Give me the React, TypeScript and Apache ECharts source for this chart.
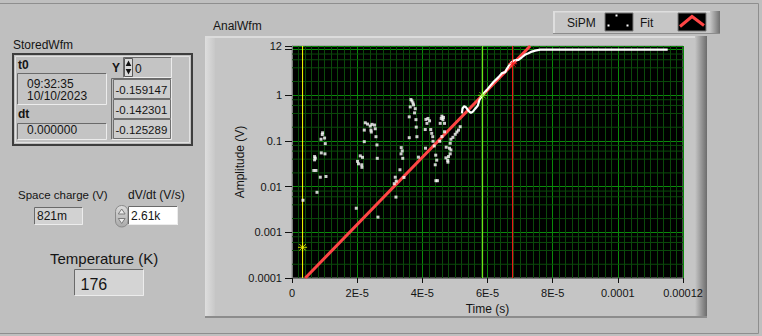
import React, { useEffect, useRef } from "react";
import * as echarts from "echarts";

// ---------- data (time in microseconds, amplitude in volts) ----------
const sipmSparseT = [
  9.39, 9.29, 8.9, 10.0, 10.21, 8.99, 10.12, 6.93, 7.15, 6.93, 6.69, 7.36, 8.68, 10.43, 7.67, 3.37,
  22.48, 23.19, 24.02, 24.54, 25.34, 22.18, 24.23, 24.33, 25.55, 25.77, 26.07, 22.18, 26.17, 20.95, 21.63, 20.12, 20.4, 21.41, 21.47, 19.72, 26.38,
  36.5, 36.81, 37.12, 37.3, 36.29, 37.82, 37.61, 35.98, 38.04, 38.13, 35.98, 38.34, 33.53, 33.83, 33.47, 33.99, 33.13, 31.69, 31.99, 31.38, 31.9, 34.36, 38.8,
  41.1, 41.72, 42.21, 41.41, 40.89, 42.58, 42.88, 43.19, 43.28, 43.65, 40.98, 44.11, 44.42, 43.96, 44.17, 44.63,
  46.01, 45.8, 46.5, 46.32, 45.49, 46.81, 46.81, 46.01, 45.34, 47.33, 47.24, 47.79, 48.04, 47.85, 48.77, 48.34, 48.56, 48.77, 49.39, 50.09, 50.61, 51.1, 51.63, 48.56,
];
const sipmSparseV = [
  0.151, 0.138, 0.109, 0.116, 0.0874, 0.0548, 0.0522, 0.0456, 0.0421, 0.0386, 0.0226, 0.0226, 0.0161, 0.0167, 0.00752, 0.00504,
  0.25, 0.234, 0.212, 0.231, 0.223, 0.173, 0.173, 0.157, 0.185, 0.124, 0.0819, 0.0966, 0.0417, 0.0472, 0.0438, 0.0358, 0.0316, 0.0301, 0.0265, 0.00337, 0.00215,
  0.806, 0.752, 0.68, 0.615, 0.557, 0.509, 0.412, 0.337, 0.293, 0.201, 0.118, 0.124, 0.0715, 0.0606, 0.0522, 0.0417, 0.0234, 0.0161, 0.0132, 0.0116, 0.00591, 0.0159, 0.0442,
  0.296, 0.311, 0.276, 0.243, 0.178, 0.178, 0.147, 0.124, 0.0985, 0.0778, 0.0694, 0.0489, 0.038, 0.0301, 0.0135, 0.0135,
  0.349, 0.311, 0.328, 0.293, 0.243, 0.243, 0.159, 0.125, 0.0985, 0.073, 0.0427, 0.0377, 0.0456, 0.0344, 0.0637, 0.0694, 0.0891, 0.109, 0.12, 0.14, 0.157, 0.173, 0.205, 0.0522,
];
const sipmRampT = [
  52.15, 52.33, 52.85, 53.47, 54.17, 54.91, 55.52, 56.23, 57.0, 57.55, 58.07, 58.77, 59.82, 60.83, 61.84, 63.38,
  64.42, 65.43, 65.95, 66.96, 67.98, 69.51, 70.55, 71.57, 72.58, 73.62, 74.63, 76.17, 115.3,
];
const sipmRampV = [
  0.4, 0.514, 0.577, 0.54, 0.456, 0.412, 0.438, 0.509, 0.591, 0.798, 0.918, 1.078, 1.317, 1.609, 1.946, 2.5,
  3.05, 3.21, 3.8, 4.89, 5.77, 5.97, 6.8, 7.78, 8.31, 9.05, 9.51, 10.0, 10.0,
];
const fitT = [4.08, 73.1];
const fitV = [0.0001, 12];
const cursorT = [3.25, 58.5, 67.7];
const cursorV = [0.00047, 1.0, 4.9];
const cursorColors = ["#ffff00", "#7cff1a", "#ff1a1a"];

const xTickLabels = ["0", "2E-5", "4E-5", "6E-5", "8E-5", "0.0001", "0.00012"];
const yTickLabels = ["0.0001", "0.001", "0.01", "0.1", "1", ""];
const yMaxLabel = "12";
const yMinorGrid = [
  0.0002, 0.0004, 0.0006, 0.0008, 0.002, 0.004, 0.006, 0.008, 0.02, 0.04, 0.06, 0.08,
  0.2, 0.4, 0.6, 0.8, 2, 4, 6, 8,
];

const X_MIN = 0;
const X_MAX = 0.00012;
const Y_MIN = 0.0001;
const Y_MAX = 12;

const FONT = "Liberation Sans";
const TXT = "#141414";
const MAJOR = "#0a8a0a";
const MINOR = "#0b4a0b";

const US = 1e-6;

function rect(x: number, y: number, w: number, h: number, fill: any, stroke?: string, lw = 1, z = -10, r = 0) {
  return {
    type: "rect",
    silent: true,
    z,
    shape: { x, y, width: w, height: h, r },
    style: { fill, stroke: stroke || null, lineWidth: stroke ? lw : 0 },
  };
}
function txt(x: number, y: number, s: string, size = 12, bold = false, align = "left") {
  return {
    type: "text",
    silent: true,
    z: 20,
    style: {
      text: s,
      x,
      y,
      font: `${bold ? "bold " : ""}${size}px "${FONT}"`,
      fill: TXT,
      align,
      verticalAlign: "middle",
      textAlign: align,
      textVerticalAlign: "middle",
    },
  };
}
function pline(points: number[][], stroke: string, lw = 1, z = -5) {
  return { type: "polyline", silent: true, z, shape: { points }, style: { stroke, lineWidth: lw, fill: null } };
}
function poly(points: number[][], fill: string, stroke?: string, z = -4) {
  return { type: "polygon", silent: true, z, shape: { points }, style: { fill, stroke: stroke || null, lineWidth: stroke ? 1 : 0 } };
}
function sunken(x: number, y: number, w: number, h: number, fill: string) {
  return [
    rect(x, y, w, h, fill, undefined, 1, -8),
    pline([[x + 0.5, y + h - 0.5], [x + 0.5, y + 0.5], [x + w - 0.5, y + 0.5]], "#6a6a6a", 1, -6),
    pline([[x + w - 0.5, y + 0.5], [x + w - 0.5, y + h - 0.5], [x + 0.5, y + h - 0.5]], "#ececec", 1, -6),
  ];
}
const hgrad = (a: string, b: string) => ({ type: "linear", x: 0, y: 0, x2: 1, y2: 0, colorStops: [{ offset: 0, color: a }, { offset: 1, color: b }] });
const vgrad = (a: string, b: string) => ({ type: "linear", x: 0, y: 0, x2: 0, y2: 1, colorStops: [{ offset: 0, color: a }, { offset: 1, color: b }] });

function buildGraphics() {
  const G: any[] = [];
  // outer panel frame
  G.push(pline([[0, 3.5], [758.5, 3.5], [758.5, 333.5], [0, 333.5]], "#8e8e8e", 1, -12));
  // graph frame
  G.push(rect(205, 36, 502, 282, "#c5c5c5"));
  G.push(rect(205, 36, 10, 282, hgrad("#dedede", "#c8c8c8"), undefined, 1, -9));
  G.push(rect(205, 36, 502, 2, "#dcdcdc", undefined, 1, -9));
  G.push(rect(695, 36, 12, 282, hgrad("#c5c5c5", "#6c6c6c"), undefined, 1, -9));
  G.push(rect(205, 316, 502, 2, "#8c8c8c", undefined, 1, -9));
  G.push(txt(213, 26, "AnalWfm", 12));

  // legend
  G.push(rect(553, 11, 167, 23, "#c6c6c6"));
  G.push(rect(553, 11, 167, 1.5, "#dedede", undefined, 1, -9));
  G.push(rect(553, 11, 2, 23, "#dedede", undefined, 1, -9));
  G.push(rect(710, 11, 10, 23, hgrad("#c6c6c6", "#707070"), undefined, 1, -9));
  G.push(rect(553, 33, 167, 1, "#8c8c8c", undefined, 1, -9));
  G.push(txt(567, 22.5, "SiPM", 12));
  G.push(rect(605, 13, 28, 18, "#000", "#7a7a7a", 1, -7));
  G.push(rect(615.5, 14.5, 2, 2, "#fff", undefined, 1, -6));
  G.push(rect(607.5, 24.5, 2, 2, "#fff", undefined, 1, -6));
  G.push(rect(626.5, 24.5, 2, 2, "#fff", undefined, 1, -6));
  G.push(txt(640, 22.5, "Fit", 12));
  G.push(rect(678, 13, 28, 18, "#000", "#7a7a7a", 1, -7));
  G.push(pline([[680, 26.5], [692, 16.5], [704, 25.5]], "#ff4545", 3, -6));

  // StoredWfm cluster
  G.push(txt(13, 44.5, "StoredWfm", 12));
  G.push(rect(13, 54, 179, 91, "#c0c0c0", "#3e3e3e", 2, -9));
  G.push(rect(15.5, 56.5, 174, 86, null, "#e2e2e2", 1, -8));
  G.push(txt(18, 65, "t0", 12, true));
  G.push(...sunken(17, 73, 90, 32, "#c4c4c4"));
  G.push(txt(27, 83.7, "09:32:35", 12));
  G.push(txt(27, 96.2, "10/10/2023", 12));
  G.push(txt(18, 113.7, "dt", 12, true));
  G.push(...sunken(17, 123, 90, 17, "#c4c4c4"));
  G.push(txt(27, 129.7, "0.000000", 12));
  // array index
  G.push(txt(112, 67.5, "Y", 12, true));
  G.push(...sunken(123, 57, 49, 21, "#c4c4c4"));
  G.push(rect(124.5, 58.5, 8, 18, "#dadada", "#5a5a5a", 1, -5));
  G.push(poly([[125.7, 66], [128.5, 60.5], [131.3, 66]], "#111"));
  G.push(poly([[125.7, 69], [128.5, 74.5], [131.3, 69]], "#111"));
  G.push(txt(135, 68.5, "0", 12));
  // array elements
  G.push(...sunken(111, 78, 61, 62, "#bcbcbc"));
  [79.5, 99.5, 119.5].forEach((yy) => {
    G.push(rect(113.5, yy, 57, 19, "#cdcdcd", "#707070", 1, -5));
  });
  G.push(txt(115.5, 90, "-0.159147", 11.5));
  G.push(txt(115.5, 110, "-0.142301", 11.5));
  G.push(txt(115.5, 129.7, "-0.125289", 11.5));

  // space charge
  G.push(txt(18, 195, "Space charge (V)", 11.5));
  G.push(...sunken(34, 207, 49, 18, "#d2d2d2"));
  G.push(txt(37, 216, "821m", 12));
  // dV/dt
  G.push(txt(128, 195, "dV/dt (V/s)", 12));
  G.push(rect(115.5, 205.5, 12.5, 21.5, vgrad("#dcdcdc", "#a9a9a9"), "#8a8a8a", 1, -6, 6));
  G.push(poly([[118.3, 214], [121.7, 209], [125.1, 214]], "#ededed", "#7a7a7a"));
  G.push(poly([[118.3, 218.5], [121.7, 223.5], [125.1, 218.5]], "#ededed", "#7a7a7a"));
  G.push(...sunken(128, 206, 50, 19, "#ffffff"));
  G.push(txt(131, 216, "2.61k", 12));
  // temperature
  G.push(txt(50, 258, "Temperature (K)", 15));
  G.push(...sunken(74, 269, 70, 27, "#d4d4d4"));
  G.push(txt(80.5, 284.5, "176", 16));
  return G;
}

const cursorSymbol = "path://M0,4.5H9M4.5,0V9M1.3,1.3L7.7,7.7M7.7,1.3L1.3,7.7";

function gridLineSeries(points: number[][], color: string, z: number) {
  return {
    type: "line",
    data: points,
    symbol: "none",
    showSymbol: false,
    silent: true,
    lineStyle: { color, width: 1 },
    z,
  };
}

export default function App() {
  const ref = useRef<HTMLDivElement>(null);
  useEffect(() => {
    if (!ref.current) return;
    const chart = echarts.init(ref.current, undefined, { renderer: "svg" });
    const minorSeries = yMinorGrid.map((v) => gridLineSeries([[X_MIN, v], [X_MAX, v]], MINOR, 1));
    const cursorSeries = cursorT.map((t, i) => gridLineSeries([[t * US, Y_MIN], [t * US, Y_MAX]], cursorColors[i], 2));
    const option: any = {
      animation: false,
      backgroundColor: "#bfbfbf",
      textStyle: { fontFamily: FONT },
      grid: {
        left: 292,
        top: 46,
        width: 391,
        height: 232,
        show: true,
        backgroundColor: "#000",
        borderColor: "#8c8c8c",
        borderWidth: 1,
        containLabel: false,
        outerBoundsMode: "none",
      },
      xAxis: {
        type: "value",
        min: X_MIN,
        max: X_MAX,
        interval: 0.00002,
        name: "Time (s)",
        nameLocation: "middle",
        nameGap: 25,
        nameMoveOverlap: false,
        nameTextStyle: { fontSize: 12, color: TXT, fontFamily: FONT },
        axisLine: { show: true, onZero: false, lineStyle: { color: "#7a7a7a" } },
        axisTick: { show: true, length: 5, lineStyle: { color: "#111" } },
        axisLabel: {
          margin: 9,
          fontSize: 11,
          color: TXT,
          fontFamily: FONT,
          formatter: (v: number) => xTickLabels[Math.round(v / 0.00002)] ?? "",
        },
        splitLine: { show: true, lineStyle: { color: MAJOR, width: 1 } },
        minorTick: { show: false, splitNumber: 10 },
        minorSplitLine: { show: true, lineStyle: { color: MINOR, width: 1 } },
      },
      yAxis: {
        type: "log",
        logBase: 10,
        min: Y_MIN,
        max: Y_MAX,
        name: "Amplitude (V)",
        nameLocation: "middle",
        nameGap: 46,
        nameMoveOverlap: false,
        nameTextStyle: { fontSize: 12, color: TXT, fontFamily: FONT },
        axisLine: { show: true, lineStyle: { color: "#7a7a7a" } },
        axisTick: { show: true, length: 7, lineStyle: { color: "#111" } },
        axisLabel: {
          margin: 10,
          fontSize: 11,
          color: TXT,
          fontFamily: FONT,
          showMaxLabel: true,
          formatter: (v: number) => {
            const l = Math.log10(v);
            const e = Math.round(l);
            if (Math.abs(l - e) < 1e-6) return yTickLabels[e + 4] ?? "";
            if (v > 11) return yMaxLabel;
            return "";
          },
        },
        splitLine: { show: true, lineStyle: { color: MAJOR, width: 1 } },
      },
      series: [
        ...minorSeries,
        ...cursorSeries,
        {
          type: "line",
          name: "Fit",
          data: fitT.map((t, i) => [t * US, fitV[i]]),
          symbol: "none",
          showSymbol: false,
          lineStyle: { color: "#ff4545", width: 3 },
          silent: true,
          z: 3,
        },
        {
          type: "scatter",
          name: "SiPM",
          data: sipmSparseT.map((t, i) => [t * US, sipmSparseV[i]]),
          symbol: "rect",
          symbolSize: 3,
          itemStyle: { color: "#ffffff" },
          silent: true,
          z: 4,
        },
        {
          type: "line",
          name: "SiPM",
          data: sipmRampT.map((t, i) => [t * US, sipmRampV[i]]),
          symbol: "none",
          showSymbol: false,
          lineStyle: { color: "#ffffff", width: 2.2 },
          silent: true,
          z: 4,
        },
        {
          type: "scatter",
          name: "cursorPoints",
          data: cursorT.map((t, i) => ({
            value: [t * US, cursorV[i]],
            itemStyle: { color: "transparent", borderColor: cursorColors[i], borderWidth: 1 },
          })),
          symbol: cursorSymbol,
          symbolSize: 9,
          silent: true,
          z: 6,
        },
      ],
      graphic: { elements: buildGraphics() },
    };
    chart.setOption(option);
    return () => chart.dispose();
  }, []);
  return <div ref={ref} style={{ position: "absolute", left: 0, top: 0, width: 762, height: 336 }} />;
}
